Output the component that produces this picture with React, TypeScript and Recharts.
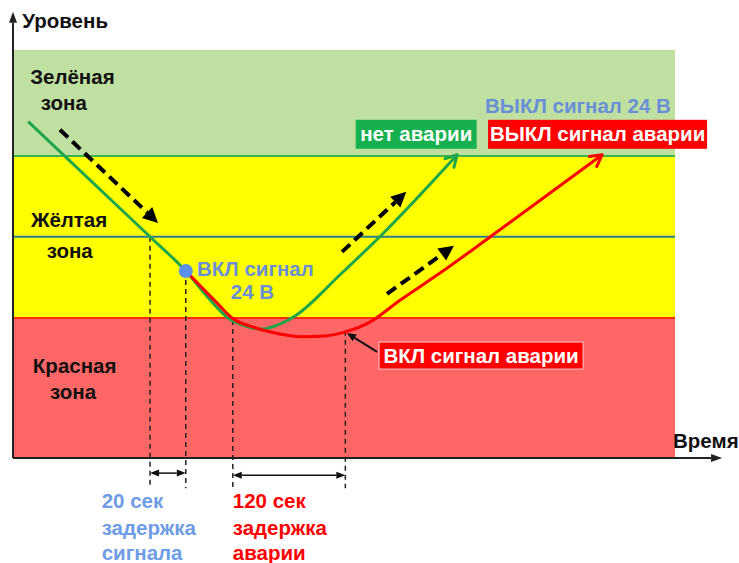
import React from "react";
import {
  ComposedChart,
  Line,
  XAxis,
  YAxis,
  ReferenceArea,
  ReferenceLine,
  ReferenceDot,
} from "recharts";

// Level zones (conventional units, 0 = time axis)
const zoneLow = [0, 34.3, 74];
const zoneHigh = [34.3, 74, 100];
const zoneFill = ["#ff6666", "#ffff00", "#bfe0a0"];
const zoneEdge = ["#ff2a12", "#2c7f8e", "#3ab54a"];
const zoneBorder = [34.3, 54.2, 74];
const zoneEnd = 100;

// Green: level without alarm
const greenTime = [2.3, 20.7, 26.1, 29.8, 32.5, 35.0, 37.8, 40.3, 42.6, 49.4, 55.4, 67.1];
const greenLevel = [82.4, 54.2, 45.8, 38.7, 34.3, 32.4, 31.6, 32.8, 34.8, 44.9, 54.2, 74.3];

// Red: level with alarm
const redTime = [26.1, 30.8, 33.1, 36.6, 40.3, 44.1, 47.1, 50.2, 53.9, 58.5, 64.5, 72.1, 89.0];
const redLevel = [45.8, 38.0, 34.3, 31.9, 30.4, 29.7, 29.9, 30.9, 33.3, 38.7, 45.3, 54.2, 74.3];

// Delay markers: vertical dashed lines and their tops
const markTime = [20.7, 26.1, 33.2, 50.2];
const markTop = [54.2, 45.8, 33.8, 31.2];
const markBottom = -7.4;
const signalDelay = [20.7, 26.1];
const alarmDelay = [33.2, 50.2];
const delayLevel = [-3.7, -4.2];

// Trend arrows (dashed)
const trendFrom = [[7.1, 80.4], [49.7, 50.5], [56.5, 40.2]];
const trendTo = [[21.9, 57.6], [59.4, 65.2], [66.6, 52.0]];

// Plain text labels
const labelText = [
  "Уровень", "Время", "Зелёная", "зона", "Жёлтая", "зона", "Красная", "зона",
  "ВКЛ сигнал", "24 В", "ВЫКЛ сигнал 24 В",
  "20 сек", "задержка", "сигнала", "120 сек", "задержка", "аварии",
];
const labelTime = [1.4, 99.7, 2.6, 4.2, 2.7, 5.1, 3.0, 5.6, 27.8, 32.9, 71.3, 13.4, 13.4, 13.4, 33.2, 33.2, 33.2];
const labelLevel = [105.4, 2.5, 91.7, 85.3, 56.6, 49.0, 20.8, 14.5, 44.5, 38.9, 84.6, -12.3, -18.9, -25.0, -12.3, -18.9, -25.0];
const labelColor = [
  "#111", "#111", "#111", "#111", "#111", "#111", "#111", "#111",
  "#6a8fd6", "#6a8fd6", "#6a8fd6",
  "#6e9de6", "#6e9de6", "#6e9de6", "#ff0000", "#ff0000", "#ff0000",
];

// Boxed labels
const boxText = ["нет аварии", "ВЫКЛ сигнал аварии", "ВКЛ сигнал аварии"];
const boxTime = [60.9, 88.3, 70.7];
const boxLevel = [79.3, 79.3, 25.1];
const boxFill = ["#17b04f", "#ff0000", "#ff0000"];
const boxStroke = ["none", "none", "#ffc8c8"];
const boxWidth = [121, 219, 204];
const boxHeight = [29, 29, 27];

const pointerFrom = [55.0, 26.0];
const pointerTo = [50.45, 30.6];

const FONT = "'Liberation Sans', Arial, sans-serif";
const SIZE = 20.5;

const greenData = greenTime.map((t, i) => ({ t, level: greenLevel[i] }));
const redData = redTime.map((t, i) => ({ t, level: redLevel[i] }));

function head(x1, y1, x2, y2, len, half) {
  const a = Math.atan2(y2 - y1, x2 - x1);
  const bx = x2 - len * Math.cos(a);
  const by = y2 - len * Math.sin(a);
  const px = -Math.sin(a) * half;
  const py = Math.cos(a) * half;
  return { bx, by, pts: `${x2},${y2} ${bx + px},${by + py} ${bx - px},${by - py}` };
}

const DashedArrow = (p) => {
  const h = head(p.x1, p.y1, p.x2, p.y2, 15, 7.5);
  return (
    <g>
      <line x1={p.x1} y1={p.y1} x2={h.bx} y2={h.by} stroke="#000" strokeWidth={4} strokeDasharray="11 6" />
      <polygon points={h.pts} fill="#000" />
    </g>
  );
};

const AxisArrow = (p) => {
  const h = head(p.x1, p.y1, p.x2, p.y2, 11, 4);
  return (
    <g>
      <line x1={p.x1} y1={p.y1} x2={h.bx} y2={h.by} stroke="#222" strokeWidth={2} />
      <polygon points={h.pts} fill="#222" />
    </g>
  );
};

const PointerArrow = (p) => {
  const h = head(p.x1, p.y1, p.x2, p.y2, 9, 4);
  return (
    <g>
      <line x1={p.x1} y1={p.y1} x2={h.bx} y2={h.by} stroke="#111" strokeWidth={2} />
      <polygon points={h.pts} fill="#111" />
    </g>
  );
};

const DelayArrow = (p) => {
  const a = head(p.x1, p.y1, p.x2, p.y2, 9, 3.5);
  const b = head(p.x2, p.y2, p.x1, p.y1, 9, 3.5);
  return (
    <g>
      <line x1={b.bx} y1={b.by} x2={a.bx} y2={a.by} stroke="#111" strokeWidth={1.5} />
      <polygon points={a.pts} fill="#111" />
      <polygon points={b.pts} fill="#111" />
    </g>
  );
};

const chevron = (color) => (p) => {
  const a = Math.atan2(p.y2 - p.y1, p.x2 - p.x1);
  const len = 13;
  const spread = 0.5;
  const l = [p.x2 - len * Math.cos(a - spread), p.y2 - len * Math.sin(a - spread)];
  const r = [p.x2 - len * Math.cos(a + spread), p.y2 - len * Math.sin(a + spread)];
  return (
    <polyline
      points={`${l[0]},${l[1]} ${p.x2},${p.y2} ${r[0]},${r[1]}`}
      fill="none"
      stroke={color}
      strokeWidth={3}
      strokeLinecap="round"
      strokeLinejoin="round"
    />
  );
};

const textShape = (txt, color) => (p) => (
  <text x={p.cx} y={p.cy} fill={color} fontFamily={FONT} fontWeight="bold" fontSize={SIZE}>
    {txt}
  </text>
);

const boxShape = (txt, fill, stroke, w, h) => (p) => (
  <g>
    <rect x={p.cx - w / 2} y={p.cy - h / 2} width={w} height={h} fill={fill} stroke={stroke} />
    <text
      x={p.cx}
      y={p.cy + 7}
      fill="#fff"
      textAnchor="middle"
      fontFamily={FONT}
      fontWeight="bold"
      fontSize={SIZE}
    >
      {txt}
    </text>
  </g>
);

export default function App() {
  const last = greenData.length - 1;
  const lastR = redData.length - 1;
  return (
    <div style={{ position: "absolute", left: 0, top: 0, background: "#fff" }}>
      <ComposedChart width={739} height={563} margin={{ top: 9, right: 11, bottom: 105, left: 13 }}>
        <XAxis type="number" dataKey="t" domain={[0, 108]} hide />
        <YAxis type="number" domain={[0, 110]} hide />

        {/* Zones */}
        {zoneLow.map((lo, i) => (
          <ReferenceArea key={"z" + i} x1={0} x2={zoneEnd} y1={lo} y2={zoneHigh[i]} fill={zoneFill[i]} fillOpacity={1} stroke="none" />
        ))}
        {zoneBorder.map((y, i) => (
          <ReferenceLine key={"b" + i} segment={[{ x: 0, y }, { x: zoneEnd, y }]} stroke={zoneEdge[i]} strokeWidth={2} />
        ))}

        {/* Delay markers */}
        {markTime.map((t, i) => (
          <ReferenceLine
            key={"m" + i}
            segment={[{ x: t, y: markTop[i] }, { x: t, y: markBottom }]}
            stroke="#222"
            strokeWidth={1.5}
            strokeDasharray="5 4"
            ifOverflow="visible"
          />
        ))}
        <ReferenceLine segment={[{ x: signalDelay[0], y: delayLevel[0] }, { x: signalDelay[1], y: delayLevel[0] }]} shape={DelayArrow} ifOverflow="visible" />
        <ReferenceLine segment={[{ x: alarmDelay[0], y: delayLevel[1] }, { x: alarmDelay[1], y: delayLevel[1] }]} shape={DelayArrow} ifOverflow="visible" />

        {/* Axes */}
        <ReferenceLine segment={[{ x: 0, y: 0 }, { x: 0, y: 109.3 }]} shape={AxisArrow} ifOverflow="visible" />
        <ReferenceLine segment={[{ x: 0, y: 0 }, { x: 107.1, y: 0 }]} shape={AxisArrow} ifOverflow="visible" />

        {/* Trend arrows */}
        {trendFrom.map((f, i) => (
          <ReferenceLine key={"tr" + i} segment={[{ x: f[0], y: f[1] }, { x: trendTo[i][0], y: trendTo[i][1] }]} shape={DashedArrow} />
        ))}

        <Line data={greenData} dataKey="level" type="monotone" stroke="#1fa64a" strokeWidth={3} dot={false} isAnimationActive={false} />
        <Line data={redData} dataKey="level" type="monotone" stroke="#ff0000" strokeWidth={3} dot={false} isAnimationActive={false} />
        <ReferenceLine
          segment={[{ x: greenTime[last - 1], y: greenLevel[last - 1] }, { x: greenTime[last], y: greenLevel[last] }]}
          shape={chevron("#1fa64a")}
        />
        <ReferenceLine
          segment={[{ x: redTime[lastR - 1], y: redLevel[lastR - 1] }, { x: redTime[lastR], y: redLevel[lastR] }]}
          shape={chevron("#ff0000")}
        />

        <ReferenceDot x={greenTime[2]} y={greenLevel[2]} r={7} fill="#5b8fe8" stroke="none" />

        {/* Text */}
        {labelText.map((txt, i) => (
          <ReferenceDot key={"l" + i} x={labelTime[i]} y={labelLevel[i]} r={1} ifOverflow="visible" shape={textShape(txt, labelColor[i])} />
        ))}
        {boxText.map((txt, i) => (
          <ReferenceDot
            key={"bx" + i}
            x={boxTime[i]}
            y={boxLevel[i]}
            r={1}
            ifOverflow="visible"
            shape={boxShape(txt, boxFill[i], boxStroke[i], boxWidth[i], boxHeight[i])}
          />
        ))}
        <ReferenceLine segment={[{ x: pointerFrom[0], y: pointerFrom[1] }, { x: pointerTo[0], y: pointerTo[1] }]} shape={PointerArrow} />
      </ComposedChart>
    </div>
  );
}
